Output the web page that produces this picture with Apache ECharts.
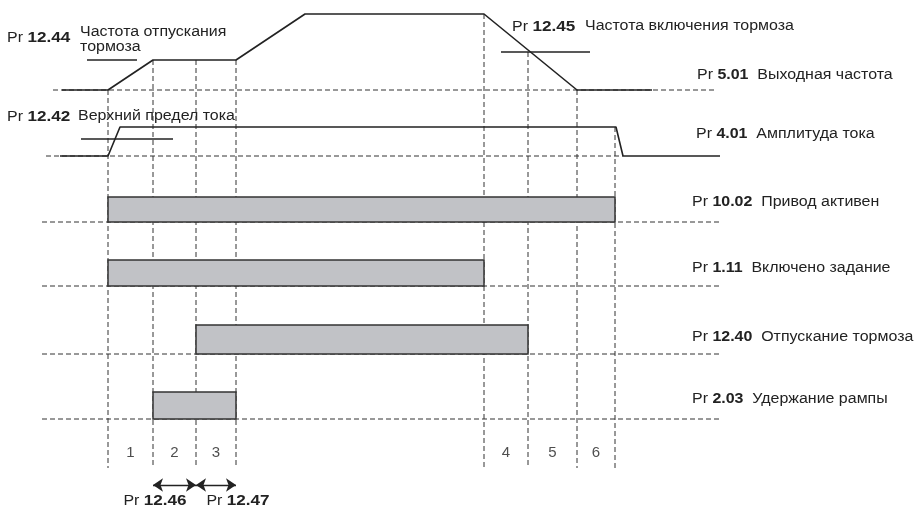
<!DOCTYPE html>
<html>
<head>
<meta charset="utf-8">
<script src="https://cdn.jsdelivr.net/npm/echarts@6/dist/echarts.min.js"></script>
<style>
  html, body { margin: 0; padding: 0; background: #fff; }
  #chart { width: 915px; height: 507px; }
</style>
</head>
<body>
<div id="chart"></div>
<script>
// время событий (вертикальные пунктиры) и откуда они начинаются
const markerT = [108, 153, 196, 236, 484, 528, 577, 615];
const markerFrom = [90, 60, 60, 60, 14, 52, 90, 127];
const markerTo = 468;
// номера фаз между соседними пунктирами
const phaseLabels = ["1", "2", "3", "", "4", "5", "6"];

// выходная частота
const freqT = [62, 108, 153, 236, 305, 484, 577, 652];
const freqY = [90, 90, 60, 60, 14, 14, 90, 90];

// амплитуда тока
const curT = [60, 108, 120, 616, 623, 720];
const curY = [156, 156, 127, 127, 156, 156];

// пороги
const threshY = [60, 139, 52];
const threshFrom = [87, 81, 501];
const threshTo = [137, 173, 590];

// пунктирные базовые линии
const baseY = [90, 156, 222, 286, 354, 419];
const baseFrom = [53, 46, 42, 42, 42, 42];
const baseTo = [717, 623, 720, 720, 720, 720];

// логические сигналы
const barCodes = ["10.02", "1.11", "12.40", "2.03"];
const barNames = ["Привод активен", "Включено задание", "Отпускание тормоза", "Удержание рампы"];
const barStart = [108, 108, 196, 153];
const barEnd = [615, 484, 528, 236];
const barTop = [197, 260, 325, 392];
const barBottom = [222, 286, 354, 419];

// интервалы задержек
const delayCodes = ["12.46", "12.47"];
const delayFrom = [153, 196];
const delayTo = [196, 236];
const delayY = 485;

const ink = "#222";
const dash = "#333";
const font = "Liberation Sans";
const sx = 1.14; // текст в оригинале чуть растянут по ширине

const chart = echarts.init(document.getElementById("chart"));

function seg(x1, y1, x2, y2, dashed, w) {
  return {
    type: "line",
    data: [[x1, y1], [x2, y2]],
    showSymbol: false,
    silent: true,
    animation: false,
    z: dashed ? 1 : 3,
    lineStyle: {
      color: dashed ? dash : ink,
      width: w || (dashed ? 1 : 1.6),
      type: dashed ? [5, 3] : "solid",
    },
  };
}

const series = [];
// вертикальные пунктиры
markerT.forEach((t, i) => series.push(seg(t, markerFrom[i], t, markerTo, true)));
// базовые линии
baseY.forEach((y, i) => series.push(seg(baseFrom[i], y, baseTo[i], y, true)));
// пороги
threshY.forEach((y, i) => series.push(seg(threshFrom[i], y, threshTo[i], y, false, 1.6)));
// частота
series.push({
  type: "line",
  data: freqT.map((t, i) => [t, freqY[i]]),
  showSymbol: false, silent: true, animation: false, z: 3,
  lineStyle: { color: ink, width: 1.6 },
});
// ток
series.push({
  type: "line",
  data: curT.map((t, i) => [t, curY[i]]),
  showSymbol: false, silent: true, animation: false, z: 3,
  lineStyle: { color: ink, width: 1.6 },
});
// прямоугольники сигналов
series.push({
  type: "custom",
  silent: true,
  animation: false,
  z: 4,
  data: barCodes.map((c, i) => [barStart[i], barEnd[i], barTop[i], barBottom[i]]),
  renderItem(params, api) {
    const p1 = api.coord([api.value(0), api.value(2)]);
    const p2 = api.coord([api.value(1), api.value(3)]);
    return {
      type: "rect",
      shape: { x: p1[0], y: p1[1], width: p2[0] - p1[0], height: p2[1] - p1[1] },
      style: { fill: "#c1c2c6", stroke: "#333", lineWidth: 1.5 },
    };
  },
});
// номера фаз
const phaseData = [];
for (let i = 0; i < markerT.length - 1; i++) {
  if (phaseLabels[i]) phaseData.push({ value: [(markerT[i] + markerT[i + 1]) / 2, 453], name: phaseLabels[i] });
}
series.push({
  type: "scatter",
  data: phaseData,
  symbolSize: 0,
  silent: true,
  animation: false,
  label: {
    show: true,
    position: "inside",
    formatter: (p) => p.name,
    color: ink,
    fontSize: 15,
    fontFamily: font,
  },
});
// стрелки задержек
series.push({
  type: "lines",
  coordinateSystem: "cartesian2d",
  silent: true,
  animation: false,
  symbol: ["arrow", "arrow"],
  symbolSize: 10,
  lineStyle: { color: ink, width: 1.4, opacity: 1 },
  data: delayCodes.map((c, i) => ({ coords: [[delayFrom[i], delayY], [delayTo[i], delayY]] })),
});

const rich = {
  a: { fontSize: 14, fontFamily: font, color: ink },
  b: { fontSize: 14, fontFamily: font, fontWeight: "bold", color: ink },
  A: { fontSize: 14, fontFamily: font, color: ink },
  B: { fontSize: 15, fontFamily: font, fontWeight: "bold", color: ink },
};
function txt(x, y, str, align) {
  return {
    type: "text",
    x: x, y: y,
    scaleX: sx,
    style: { text: str, rich: rich, align: align || "left", verticalAlign: "middle", fill: ink },
    silent: true,
  };
}

const rightLabels = [
  ["5.01", "Выходная частота", 697, 75],
  ["4.01", "Амплитуда тока", 696, 134],
];
const barLabelY = [202, 268, 337, 399];
barCodes.forEach((c, i) => rightLabels.push([c, barNames[i], 692, barLabelY[i]]));

const graphic = [];
rightLabels.forEach((r) => {
  graphic.push(txt(r[2], r[3], "{a|Pr }{b|" + r[0] + "}{a|  " + r[1] + "}"));
});
graphic.push(txt(7, 38, "{A|Pr }{B|12.44}"));
graphic.push(txt(80, 32, "{a|Частота отпускания}"));
graphic.push(txt(80, 47, "{a|тормоза}"));
graphic.push(txt(7, 117, "{A|Pr }{B|12.42}"));
graphic.push(txt(78, 116, "{a|Верхний предел тока}"));
graphic.push(txt(512, 27, "{A|Pr }{B|12.45}"));
graphic.push(txt(585, 26, "{a|Частота включения тормоза}"));
delayCodes.forEach((c, i) => {
  graphic.push(txt([155, 238][i], 501, "{A|Pr }{B|" + c + "}", "center"));
});

chart.setOption({
  animation: false,
  backgroundColor: "#fff",
  grid: { left: 0, right: 0, top: 0, bottom: 0 },
  xAxis: { type: "value", min: 0, max: 915, show: false },
  yAxis: { type: "value", min: 0, max: 507, inverse: true, show: false },
  series: series,
  graphic: graphic,
});
</script>
</body>
</html>
